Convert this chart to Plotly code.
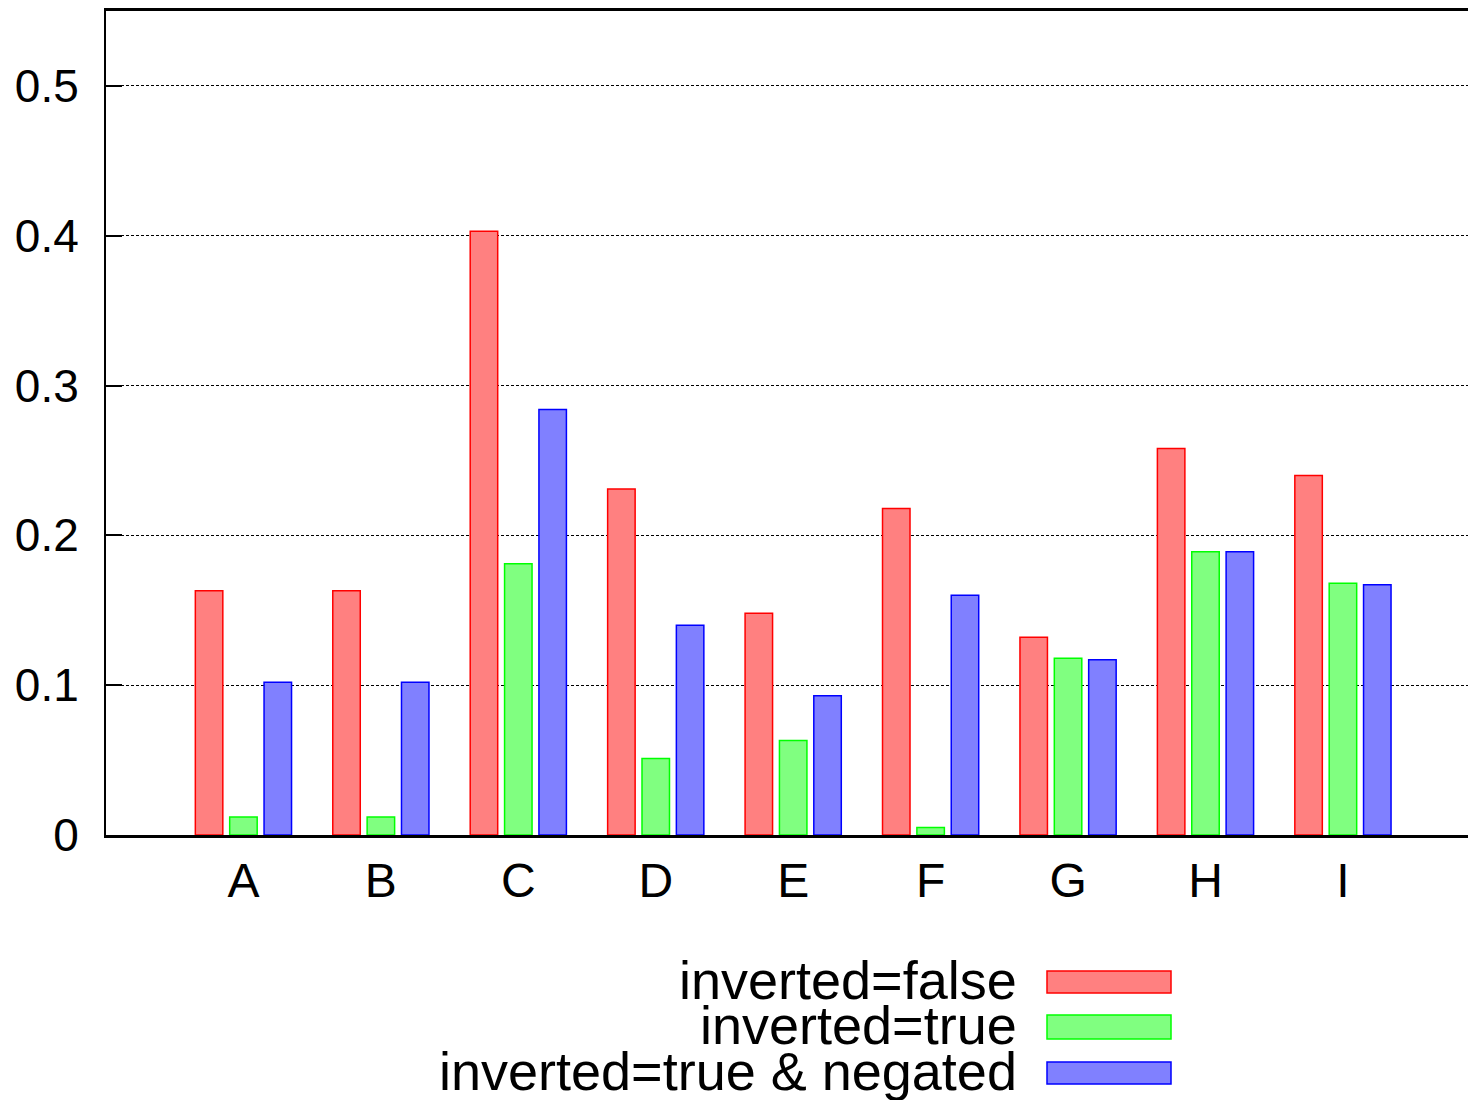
import plotly.graph_objects as go

# Categories and the three measured series
categories = ["A", "B", "C", "D", "E", "F", "G", "H", "I"]
inverted_false = [0.163, 0.163, 0.403, 0.231, 0.148, 0.218, 0.132, 0.258, 0.240]
inverted_true = [0.012, 0.012, 0.181, 0.051, 0.063, 0.005, 0.118, 0.189, 0.168]
inverted_true_negated = [0.102, 0.102, 0.284, 0.140, 0.093, 0.160, 0.117, 0.189, 0.167]

series_names = ["inverted=false", "inverted=true", "inverted=true & negated"]
y_ticks = [0, 0.1, 0.2, 0.3, 0.4, 0.5]
y_tick_labels = ["0", "0.1", "0.2", "0.3", "0.4", "0.5"]

fills = ["#ff8080", "#80ff80", "#8080ff"]
edges = ["#ff0000", "#00ff00", "#0000ff"]

W, H = 1468, 1100
L, R, T, B = 106, 0, 11, 265
plot_w = W - L - R
plot_h = H - T - B

x_idx = list(range(len(categories)))

fig = go.Figure()
for name, vals, fc, ec in zip(series_names,
                              [inverted_false, inverted_true, inverted_true_negated],
                              fills, edges):
    fig.add_trace(go.Bar(
        x=x_idx, y=vals, name=name,
        marker=dict(color=fc, line=dict(color=ec, width=1.5)),
        showlegend=False,
    ))

font_family = "Liberation Sans, Arial, sans-serif"

fig.update_layout(
    width=W, height=H,
    margin=dict(l=L, r=R, t=T, b=B, pad=0),
    paper_bgcolor="white", plot_bgcolor="white",
    barmode="group", bargap=0.25, bargroupgap=0.2,
    font=dict(family=font_family, color="black"),
    xaxis=dict(
        range=[-1.0, 8.91],
        tickvals=x_idx, ticktext=categories,
        tickfont=dict(size=48, family=font_family, color="black"),
        ticks="", showgrid=False, zeroline=False,
        showline=True, linecolor="black", linewidth=2.5, mirror=True,
        ticklabelstandoff=2,
    ),
    yaxis=dict(
        range=[0, 0.55],
        tickvals=y_ticks, ticktext=y_tick_labels,
        tickfont=dict(size=46, family=font_family, color="black"),
        ticks="inside", ticklen=16, tickwidth=2, tickcolor="black",
        showgrid=True, gridcolor="black", gridwidth=1.2, griddash="3px,2px",
        zeroline=False,
        showline=True, linecolor="black", linewidth=2,
        ticklabelstandoff=16,
    ),
)

# Key: right-aligned labels with colour swatches to their right
def px_to_paper_x(px):
    return (px - L) / plot_w

def py_to_paper_y(py):
    return (H - B - py) / plot_h

key_rows = [(980, 971, 993), (1025, 1015, 1039), (1071, 1062, 1084)]
for name, fc, ec, (cy, y0, y1) in zip(series_names, fills, edges, key_rows):
    fig.add_annotation(
        x=px_to_paper_x(1019), y=py_to_paper_y(cy),
        xref="paper", yref="paper",
        xanchor="right", yanchor="middle",
        text=name, showarrow=False,
        font=dict(size=54, family=font_family, color="black"),
    )
    fig.add_shape(
        type="rect", xref="paper", yref="paper",
        x0=px_to_paper_x(1047), x1=px_to_paper_x(1171),
        y0=py_to_paper_y(y1), y1=py_to_paper_y(y0),
        fillcolor=fc, line=dict(color=ec, width=1.5),
    )

fig.write_html("out.html")
